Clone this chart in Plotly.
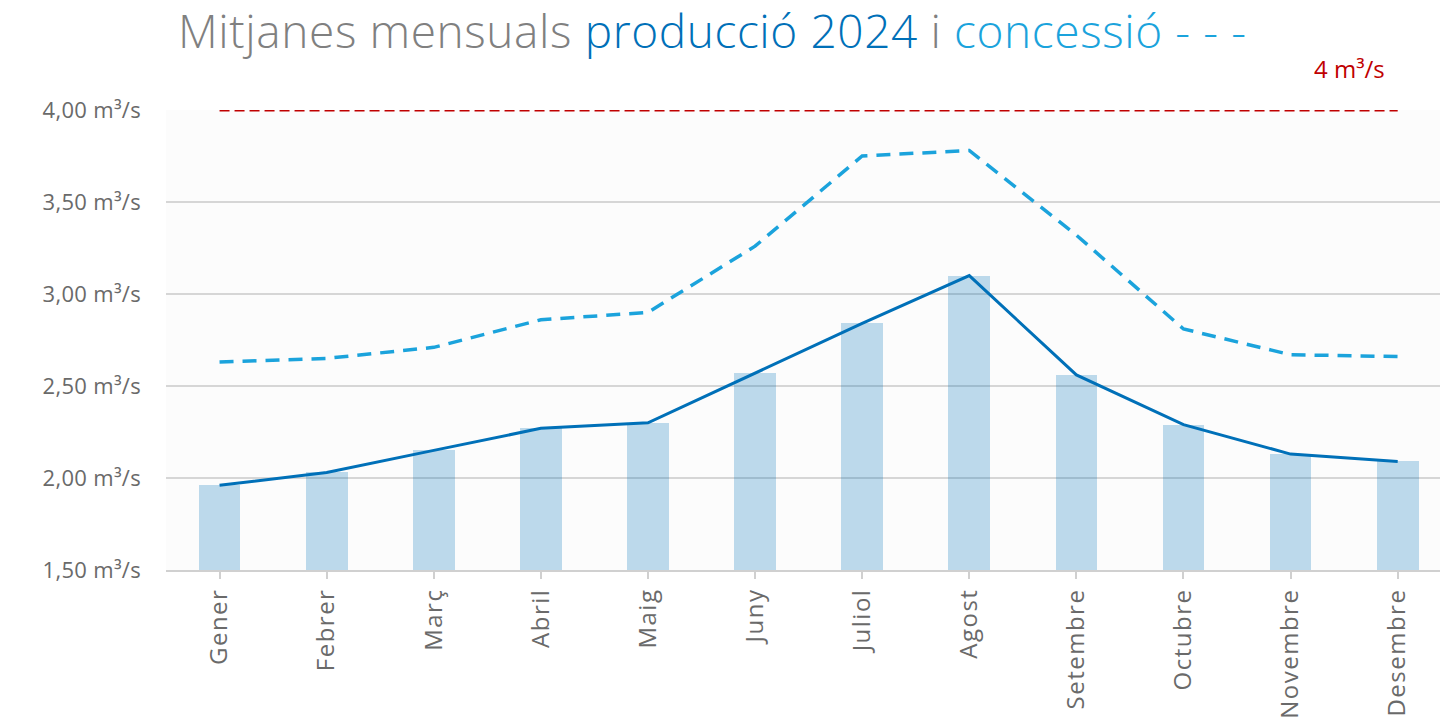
import plotly.graph_objects as go

months = ["Gener", "Febrer", "Març", "Abril", "Maig", "Juny", "Juliol",
          "Agost", "Setembre", "Octubre", "Novembre", "Desembre"]
produccio = [1.96, 2.03, 2.15, 2.27, 2.30, 2.57, 2.84, 3.10, 2.56, 2.29, 2.13, 2.09]
concessio = [2.63, 2.65, 2.71, 2.86, 2.90, 3.26, 3.75, 3.78, 3.32, 2.81, 2.67, 2.66]
limit_value = 4.0
limit = [limit_value] * len(months)
y_ticks = [1.5, 2.0, 2.5, 3.0, 3.5, 4.0]
y_ticktext = ["1,50 m³/s", "2,00 m³/s", "2,50 m³/s", "3,00 m³/s", "3,50 m³/s", "4,00 m³/s"]

FONT = "Open Sans"
GREY = "#808080"
BLUE = "#0070b8"
LIGHT = "#1ba3dc"
RED = "#c00000"

x = list(range(len(months)))
month_labels = [f"<span style='letter-spacing:1.5px'>{m}</span>" for m in months]
y_labels = [f"<span style='letter-spacing:0.3px'>{t}</span>" for t in y_ticktext]

fig = go.Figure()
fig.add_trace(go.Bar(x=x, y=produccio, width=0.39,
                     marker=dict(color="rgba(0,112,184,0.255)", line=dict(width=0)),
                     hoverinfo="y", showlegend=False))
fig.add_trace(go.Scatter(x=x, y=limit, mode="lines",
                         line=dict(color=RED, width=3, dash="10px,5px"),
                         showlegend=False, cliponaxis=False))
fig.add_trace(go.Scatter(x=x, y=concessio, mode="lines",
                         line=dict(color=LIGHT, width=3.5, dash="14px,9px"),
                         showlegend=False))
fig.add_trace(go.Scatter(x=x, y=produccio, mode="lines",
                         line=dict(color=BLUE, width=3),
                         showlegend=False))

ls = "letter-spacing:0.6px"
title_text = (f"<span style='color:{GREY};{ls}'>Mitjanes mensuals </span>"
              f"<span style='color:{BLUE};{ls}'>producció 2024</span>"
              f"<span style='color:{GREY};{ls}'> i </span>"
              f"<span style='color:{LIGHT};{ls}'>concessió - - -</span>")

fig.update_layout(
    width=1440, height=728,
    margin=dict(l=166, r=0, t=110, b=158),
    paper_bgcolor="white",
    plot_bgcolor="#fcfcfc",
    font=dict(family=FONT, color="#6a6a6a"),
    bargap=0,
    xaxis=dict(
        range=[-0.5, 11.395],
        tickmode="array", tickvals=x, ticktext=month_labels,
        tickangle=-90,
        tickfont=dict(size=24, color="#6a6a6a", family=FONT),
        ticks="outside", ticklen=7, tickwidth=2, tickcolor="#d0d0d0",
        showline=True, linecolor="#d0d0d0", linewidth=2,
        showgrid=False, zeroline=False, automargin=False,
    ),
    yaxis=dict(
        range=[1.5, 4.0],
        tickmode="array", tickvals=y_ticks, ticktext=y_labels,
        tickfont=dict(size=22, color="#6a6a6a", family=FONT),
        ticklabelstandoff=24,
        showgrid=True, gridcolor="#d6d6d6", gridwidth=2,
        zeroline=False, showline=False, ticks="", automargin=False,
    ),
    annotations=[
        dict(xref="paper", yref="paper", x=0.008, y=1.1739,
             xanchor="left", yanchor="middle", showarrow=False,
             text=title_text, font=dict(size=46, family=FONT, weight=300)),
        dict(xref="paper", yref="paper", x=0.929, y=1.0913,
             xanchor="center", yanchor="middle", showarrow=False,
             text="4 m³/s", font=dict(size=24, color=RED, family=FONT)),
    ],
)

fig.write_html("out.html",
               config={"displayModeBar": False},
               post_script="document.body.style.margin='0';document.body.style.overflow='hidden';")
